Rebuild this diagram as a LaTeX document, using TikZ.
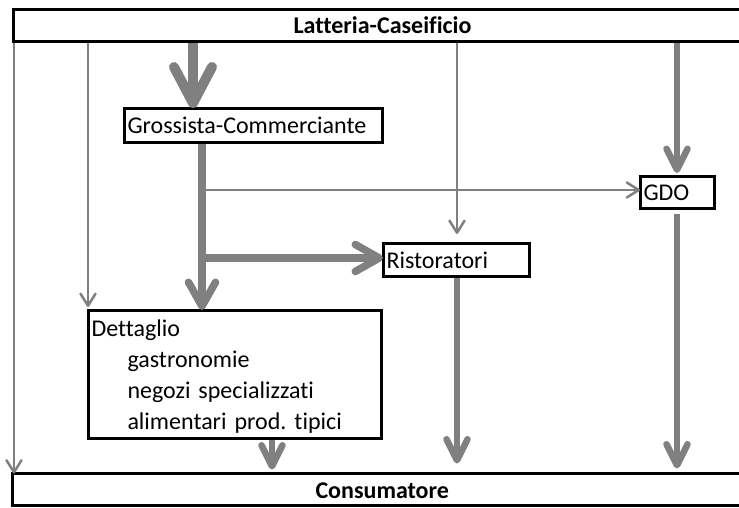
\documentclass[tikz,border=0pt]{standalone}
\usepackage{fontspec}
\setmainfont{Carlito}[Ligatures={NoCommon,NoRequired,NoContextual}]
\usetikzlibrary{arrows.meta}
\definecolor{flowgray}{RGB}{128,128,128}
\frenchspacing
\begin{document}
\begin{tikzpicture}[x=1pt,y=-1pt,
  boxnode/.style={draw=black, line width=3pt, fill=white, rectangle, outer sep=0pt,
    inner xsep=3.5pt, inner ysep=0pt, font=\fontsize{24}{29}\selectfont},
  widebox/.style={boxnode, anchor=north west, align=center, text height=21pt, text depth=4pt},
  leftbox/.style={boxnode, anchor=north west, align=left, text height=21pt, text depth=4pt},
  detbox/.style={boxnode, anchor=north west, align=left, font=\fontsize{24}{31}\selectfont},
  thinarrow/.style={draw=flowgray, line width=2.5pt, -{Straight Barb[length=12pt, width=15pt, round]}},
  medarrow/.style={draw=flowgray, line width=6.5pt, -{Straight Barb[length=21pt, width=21pt, round]}},
  bigarrow/.style={draw=flowgray, line width=7.5pt, -{Straight Barb[length=24pt, width=27pt, round]}},
  toparrow/.style={draw=flowgray, line width=10pt, -{Straight Barb[length=36pt, width=38pt, round]}}
]
\useasboundingbox (0,0) rectangle (739,507);
\clip (0,0) rectangle (739,507);

% boxes
\node[widebox, minimum width=739pt, minimum height=32.7pt] (lat) at (13,9) {\bfseries Latteria-Caseificio};
\node[widebox, minimum width=739.5pt, minimum height=32pt] (con) at (12.5,473.5) {\bfseries Consumatore};
\node[leftbox, minimum width=258pt, minimum height=34pt, text width=251pt] (gro) at (124,108) {Grossista-Commerciante};
\node[leftbox, minimum width=146pt, minimum height=33pt, text width=139pt] (ris) at (383,243) {Ristoratori};
\node[leftbox, minimum width=74pt, minimum height=32pt, text width=67pt] (gdo) at (640,176) {GDO};
\node[detbox, minimum width=293pt, minimum height=128pt, text width=286pt] (det) at (88,310)
  {\rule{0pt}{21pt}Dettaglio\\
   \hspace*{36pt}gastronomie\\
   \hspace*{36pt}negozi specializzati\\
   \hspace*{36pt}alimentari prod. tipici\rule[-4pt]{0pt}{4pt}};

% x positions of connectors
\coordinate (xl) at (14,0);
\coordinate (x2) at (88,0);
\coordinate (xa) at (193,0);
\coordinate (xb) at (202,0);
\coordinate (xd) at (272,0);
\coordinate (xr) at (457,0);
\coordinate (xg) at (677,0);
\coordinate (j1) at (202,190);
\coordinate (j2) at (202,258);

% connectors
\draw[thinarrow, shorten <=1.5pt] (lat.south -| xl) -- (con.north -| xl);
\draw[thinarrow, shorten <=1.5pt, shorten >=3pt] (lat.south -| x2) -- (det.north -| x2);
\draw[toparrow, shorten <=1.5pt] (lat.south -| xa) -- (gro.north -| xa);
\draw[thinarrow, shorten <=1.5pt, shorten >=9pt] (lat.south -| xr) -- (ris.north -| xr);
\draw[medarrow, shorten <=1.5pt, shorten >=3pt] (lat.south -| xg) -- (gdo.north -| xg);
\draw[bigarrow, shorten <=1.5pt] (gro.south -| xb) -- (det.north -| xb);
\draw[thinarrow] (j1) -- (gdo.west |- j1);
\draw[bigarrow] (j2) -- (ris.west |- j2);
\draw[medarrow, shorten <=1.5pt, shorten >=10pt] (ris.south -| xr) -- (con.north -| xr);
\draw[medarrow, shorten <=6pt, shorten >=5pt] (gdo.south -| xg) -- (con.north -| xg);
\draw[medarrow, shorten <=1.5pt, shorten >=4pt] (det.south -| xd) -- (con.north -| xd);
\end{tikzpicture}
\end{document}
